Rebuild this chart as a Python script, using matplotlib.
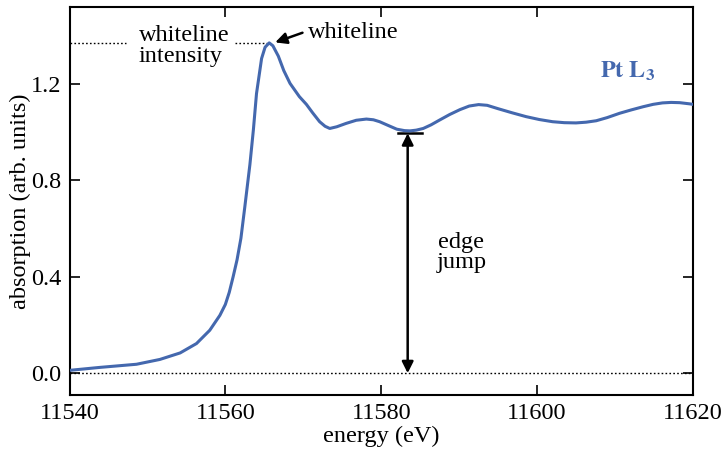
import numpy as np
import matplotlib
matplotlib.use('Agg')
from matplotlib import pyplot as plt

plt.rcParams['font.family'] = ['Liberation Serif', 'DejaVu Serif']
plt.rcParams['mathtext.fontset'] = 'stix'

# data
energy = [11540.1, 11543.9, 11548.6, 11551.6, 11554.2, 11556.3, 11558.0, 11559.3,
          11560.0, 11560.5, 11561.0, 11561.5, 11562.0, 11562.5, 11563.15, 11563.6, 11564.0,
          11564.65, 11565.1, 11565.63, 11566.1, 11566.8, 11567.5, 11568.3, 11569.5,
          11570.4, 11571.2, 11572.1, 11572.8, 11573.4, 11574.3, 11575.5, 11576.8,
          11578.1, 11579.0, 11579.8, 11581.0, 11582.0, 11583.0, 11583.7, 11584.5,
          11585.4, 11586.4, 11587.5, 11588.8, 11590.1, 11591.3, 11592.5, 11593.6,
          11595.0, 11596.8, 11598.6, 11600.3, 11602.0, 11603.5, 11605.0, 11606.3,
          11607.6, 11609.0, 11610.6, 11612.1, 11613.6, 11614.9, 11616.1, 11617.2,
          11618.3, 11619.6, 11620.0]
absorption = [0.012, 0.024, 0.037, 0.057, 0.084, 0.123, 0.178, 0.240,
              0.285, 0.335, 0.40, 0.47, 0.56, 0.69, 0.865, 1.010, 1.160,
              1.305, 1.352, 1.370, 1.358, 1.315, 1.255, 1.202, 1.147,
              1.115, 1.080, 1.043, 1.024, 1.015, 1.022, 1.036, 1.049,
              1.054, 1.051, 1.043, 1.026, 1.012, 1.006, 1.005, 1.008,
              1.015, 1.030, 1.050, 1.073, 1.093, 1.108, 1.114, 1.111,
              1.097, 1.080, 1.064, 1.052, 1.043, 1.039, 1.038, 1.041,
              1.047, 1.060, 1.078, 1.092, 1.105, 1.115, 1.121, 1.123,
              1.122, 1.117, 1.115]

peak_e, peak_a = 11565.63, 1.368
jump_e, jump_a = 11583.4, 0.995

x_ticks = [11540, 11560, 11580, 11600, 11620]
y_ticks = [0.0, 0.4, 0.8, 1.2]

blue = '#4468ae'
fs = 17.5
dots = (0, (1.2, 1.6))

fig = plt.figure(figsize=(7.24, 4.49), dpi=100)
ax = fig.add_axes([0.096, 0.12, 0.861, 0.864])

ax.plot(energy, absorption, color=blue, lw=2.2, zorder=3, solid_joinstyle='round')

# zero line and whiteline intensity guides
ax.axhline(0, color='k', ls=dots, lw=1.0)
ax.plot([11540, 11547.3], [peak_a, peak_a], color='k', ls=dots, lw=1.0)
ax.plot([11561.2, peak_e - 0.3], [peak_a, peak_a], color='k', ls=dots, lw=1.0)
ax.text(11548.9, 1.357, 'whiteline\nintensity', ha='left', va='center',
        fontsize=fs, linespacing=0.95)

# whiteline arrow
ax.annotate('', xy=(11566.4, 1.372), xytext=(11569.9, 1.412),
            arrowprops=dict(arrowstyle='-|>', color='k', lw=1.8, mutation_scale=17,
                            shrinkA=0, shrinkB=0))
ax.text(11570.6, 1.411, 'whiteline', ha='left', va='center', fontsize=fs)

# edge jump
ax.plot([11582.2, 11585.3], [jump_a, jump_a], color='k', lw=1.8)
ax.annotate('', xy=(jump_e, 0.0), xytext=(jump_e, jump_a),
            arrowprops=dict(arrowstyle='<|-|>', color='k', lw=1.8, mutation_scale=17,
                            shrinkA=0, shrinkB=0))
ax.text(11590.3, 0.5, 'edge\njump', ha='center', va='center', fontsize=fs,
        linespacing=0.95)

ax.text(11611.6, 1.25, r'$\mathbf{Pt\ L_3}$', ha='center', va='center',
        fontsize=fs, color=blue)

ax.set_xlim(11540, 11620)
ax.set_ylim(-0.091, 1.518)
ax.set_xticks(x_ticks)
ax.set_yticks(y_ticks)
ax.set_yticklabels([f'{v:.1f}' for v in y_ticks])
ax.tick_params(direction='in', length=7, width=1.2, top=True, right=True,
               labelsize=fs, pad=6)
for s in ax.spines.values():
    s.set_linewidth(1.5)

ax.set_xlabel('energy (eV)', fontsize=fs, labelpad=1)
ax.set_ylabel('absorption (arb. units)', fontsize=fs, labelpad=0)

fig.savefig('out.png', dpi=100)
